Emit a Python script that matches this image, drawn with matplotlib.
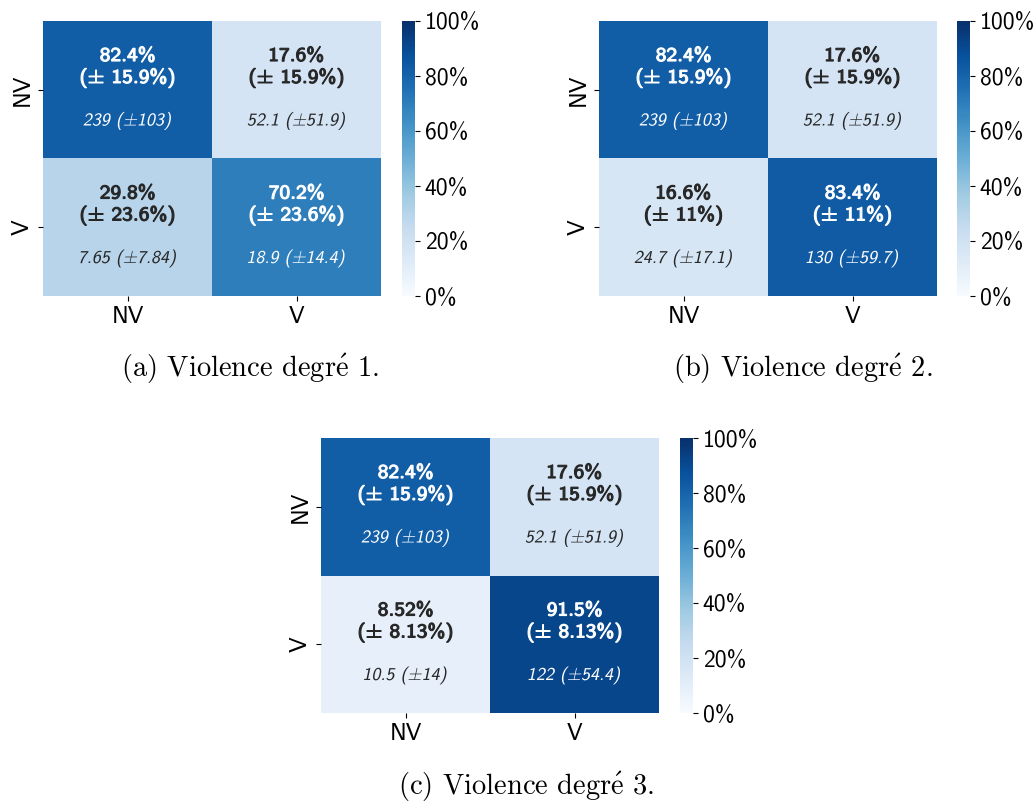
import numpy as np
import matplotlib
matplotlib.use('Agg')
import matplotlib.pyplot as plt
import matplotlib.transforms as mtransforms
from matplotlib.textpath import TextPath
from matplotlib.font_manager import FontProperties
from matplotlib.patches import PathPatch
import seaborn as sns

plt.rcParams['mathtext.fontset'] = 'cm'
plt.rcParams['font.family'] = ['cmss10', 'DejaVu Sans']
plt.rcParams['axes.unicode_minus'] = False

labels = ['NV', 'V']

# percentages (row-normalised) and their std, raw counts and their std
pct_1 = [[82.4, 17.6], [29.8, 70.2]]
pct_sd_1 = [[15.9, 15.9], [23.6, 23.6]]
cnt_1 = [[239, 52.1], [7.65, 18.9]]
cnt_sd_1 = [[103, 51.9], [7.84, 14.4]]

pct_2 = [[82.4, 17.6], [16.6, 83.4]]
pct_sd_2 = [[15.9, 15.9], [11, 11]]
cnt_2 = [[239, 52.1], [24.7, 130]]
cnt_sd_2 = [[103, 51.9], [17.1, 59.7]]

pct_3 = [[82.4, 17.6], [8.52, 91.5]]
pct_sd_3 = [[15.9, 15.9], [8.13, 8.13]]
cnt_3 = [[239, 52.1], [10.5, 122]]
cnt_sd_3 = [[103, 51.9], [14, 54.4]]

captions = [r'(a) Violence degr$\acute{\mathrm{e}}$ 1.',
            r'(b) Violence degr$\acute{\mathrm{e}}$ 2.',
            r'(c) Violence degr$\acute{\mathrm{e}}$ 3.']

W, H = 1036, 805
fig = plt.figure(figsize=(W / 100, H / 100), dpi=100)
cmap = plt.get_cmap('Blues')


def px_axes(x0, y0, x1, y1):
    return fig.add_axes([x0 / W, 1 - y1 / H, (x1 - x0) / W, (y1 - y0) / H])


def text_color(v):
    r, g, b, _ = cmap(v / 100)
    rgb = []
    for c in (r, g, b):
        rgb.append(c / 12.92 if c <= 0.03928 else ((c + 0.055) / 1.055) ** 2.4)
    lum = 0.2126 * rgb[0] + 0.7152 * rgb[1] + 0.0722 * rgb[2]
    return '#262626' if lum > .408 else 'white'


def path_text(ax, x, y, s, size, color, skew=0, sx=1.0, bold=0.0):
    # cmss10 only ships upright/regular, so slant and embolden the outlines by hand
    fp = FontProperties(family='cmss10', size=size)
    path = TextPath((0, 0), s, size=size, prop=fp)
    ext = path.get_extents()
    cx, cy = (ext.x0 + ext.x1) / 2, (ext.y0 + ext.y1) / 2
    tr = (mtransforms.Affine2D().translate(-cx, -cy).skew_deg(skew, 0)
          .scale(sx * fig.dpi / 72, fig.dpi / 72)
          + mtransforms.ScaledTranslation(x, y, ax.transData))
    patch = PathPatch(path, transform=tr, facecolor=color,
                      edgecolor=color if bold else 'none', lw=bold)
    patch.set_clip_on(False)
    ax.add_artist(patch)


def panel(box, cbox, pct, pct_sd, cnt, cnt_sd, caption, cap_xy):
    ax = px_axes(*box)
    cax = px_axes(*cbox)
    sns.heatmap(np.array(pct), ax=ax, cbar_ax=cax, cmap='Blues', vmin=0, vmax=100,
                xticklabels=labels, yticklabels=labels)
    ax.set_xticklabels(labels, fontsize=17)
    ax.set_yticklabels(labels, fontsize=17, rotation=90, va='center')
    for i in range(2):
        for j in range(2):
            col = text_color(pct[i][j])
            path_text(ax, j + 0.5, i + 0.242, f"{pct[i][j]:.3g}%", 14, col, sx=1.1, bold=0.8)
            path_text(ax, j + 0.5, i + 0.415, f"($\\pm$ {pct_sd[i][j]:.3g}%)", 14, col,
                      sx=1.1, bold=0.8)
            path_text(ax, j + 0.5, i + 0.727, f"{cnt[i][j]:.3g} ($\\pm${cnt_sd[i][j]:.3g})", 13,
                      col, skew=12)
    cax.set_yticks([0, 20, 40, 60, 80, 100])
    cax.set_yticklabels([f"{t}%" for t in range(0, 101, 20)], fontsize=17)
    cax.tick_params(length=3.5, width=0.8)
    fig.text(cap_xy[0] / W, 1 - cap_xy[1] / H, caption, ha='center', va='baseline',
             fontsize=20.5, family='cmr10')


panel((43, 21, 381, 296), (402, 21, 415, 296), pct_1, pct_sd_1, cnt_1, cnt_sd_1, captions[0], (250, 377))
panel((599, 21, 937, 296), (957, 21, 970, 296), pct_2, pct_sd_2, cnt_2, cnt_sd_2, captions[1], (803, 377))
panel((321, 438, 659, 713), (680, 438, 693, 713), pct_3, pct_sd_3, cnt_3, cnt_sd_3, captions[2], (526, 795))

fig.savefig('out.png', dpi=100)
